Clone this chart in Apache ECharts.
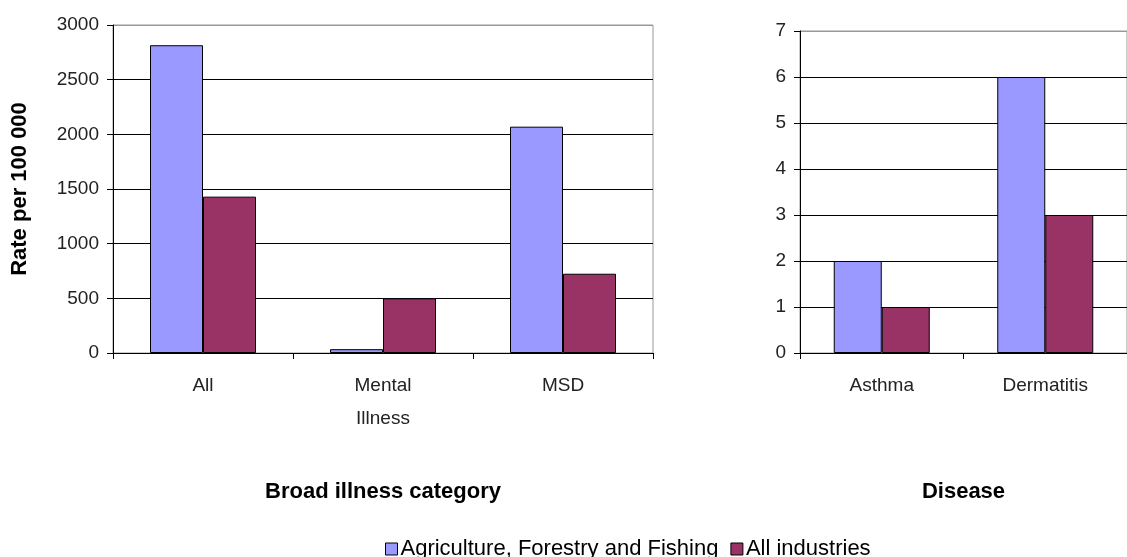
<!DOCTYPE html>
<html>
<head>
<meta charset="utf-8">
<script src="https://cdn.jsdelivr.net/npm/echarts@6/dist/echarts.min.js"></script>
<style>
  html, body { margin: 0; padding: 0; background: #fff; }
  #chart { width: 1127px; height: 557px; }
</style>
</head>
<body>
<div id="chart"></div>
<script>
// left panel: broad illness categories
var illnessCats = ['All', 'Mental\nIllness', 'MSD'];
var illnessAgri = [2815, 35, 2070];
var illnessAll = [1430, 500, 725];
// right panel: diseases
var diseaseCats = ['Asthma', 'Dermatitis'];
var diseaseAgri = [2, 6];
var diseaseAll = [1, 3];

var seriesNames = ['Agriculture, Forestry and Fishing', 'All industries'];
var agriColor = '#9999FF';
var allColor = '#993366';
var font = "'Liberation Sans', Arial, sans-serif";

var chart = echarts.init(document.getElementById('chart'));

// black grid lines, the top one grey like the plot frame
function splitColors(n) {
  var c = [];
  for (var i = 0; i < n; i++) c.push(i === n - 1 ? '#999999' : '#000000');
  return c;
}

function xAxisOf(idx, cats, name) {
  return {
    type: 'category',
    gridIndex: idx,
    data: cats,
    name: name,
    nameLocation: 'middle',
    nameGap: 128,
    nameTextStyle: { color: '#000', fontSize: 22, fontWeight: 'bold', fontFamily: font },
    axisLine: { lineStyle: { color: '#000', width: 1 } },
    axisTick: { show: true, length: 6, alignWithLabel: false, lineStyle: { color: '#000' } },
    axisLabel: {
      color: '#222', fontSize: 19, fontFamily: font, margin: 16, lineHeight: 33, interval: 0
    },
    splitLine: { show: false }
  };
}

function yAxisOf(idx, max, interval, name) {
  return {
    type: 'value',
    gridIndex: idx,
    min: 0,
    max: max,
    interval: interval,
    name: name,
    nameLocation: 'middle',
    nameGap: 82,
    nameTextStyle: { color: '#000', fontSize: 22, fontWeight: 'bold', fontFamily: font },
    axisLine: { show: true, lineStyle: { color: '#000', width: 1 } },
    axisTick: { show: true, length: 6, lineStyle: { color: '#000' } },
    axisLabel: {
      color: '#222', fontSize: 19, fontFamily: font, margin: 14,
      formatter: function (v) { return String(v); }
    },
    splitLine: { show: true, lineStyle: { color: splitColors(max / interval + 1), width: 1 } }
  };
}

function barOf(name, idx, data, color, width) {
  return {
    name: name,
    type: 'bar',
    xAxisIndex: idx,
    yAxisIndex: idx,
    data: data,
    barWidth: width,
    barGap: '0%',
    itemStyle: { color: color, borderColor: '#000', borderWidth: 1 },
    emphasis: { disabled: true }
  };
}

var option = {
  backgroundColor: '#fff',
  animation: false,
  textStyle: { fontFamily: font },
  legend: {
    data: seriesNames,
    left: 380,
    top: 533,
    itemWidth: 12,
    itemHeight: 12,
    itemGap: 12,
    icon: 'rect',
    textStyle: { color: '#000', fontSize: 22, fontFamily: font, padding: [0, 0, 0, -2] },
    itemStyle: { borderColor: '#000', borderWidth: 1 }
  },
  grid: [
    { left: 113, top: 25, width: 540, height: 328, show: true, borderColor: '#999', borderWidth: 1 },
    { left: 800, top: 31, width: 338, height: 322, show: true, borderColor: '#999', borderWidth: 1 }
  ],
  xAxis: [
    xAxisOf(0, illnessCats, 'Broad illness category'),
    xAxisOf(1, diseaseCats, 'Disease')
  ],
  yAxis: [
    yAxisOf(0, 3000, 500, 'Rate per 100 000'),
    yAxisOf(1, 7, 1, '')
  ],
  series: [
    barOf(seriesNames[0], 0, illnessAgri, agriColor, 53),
    barOf(seriesNames[1], 0, illnessAll, allColor, 53),
    barOf(seriesNames[0], 1, diseaseAgri, agriColor, 48),
    barOf(seriesNames[1], 1, diseaseAll, allColor, 48)
  ]
};

chart.setOption(option);
</script>
</body>
</html>
